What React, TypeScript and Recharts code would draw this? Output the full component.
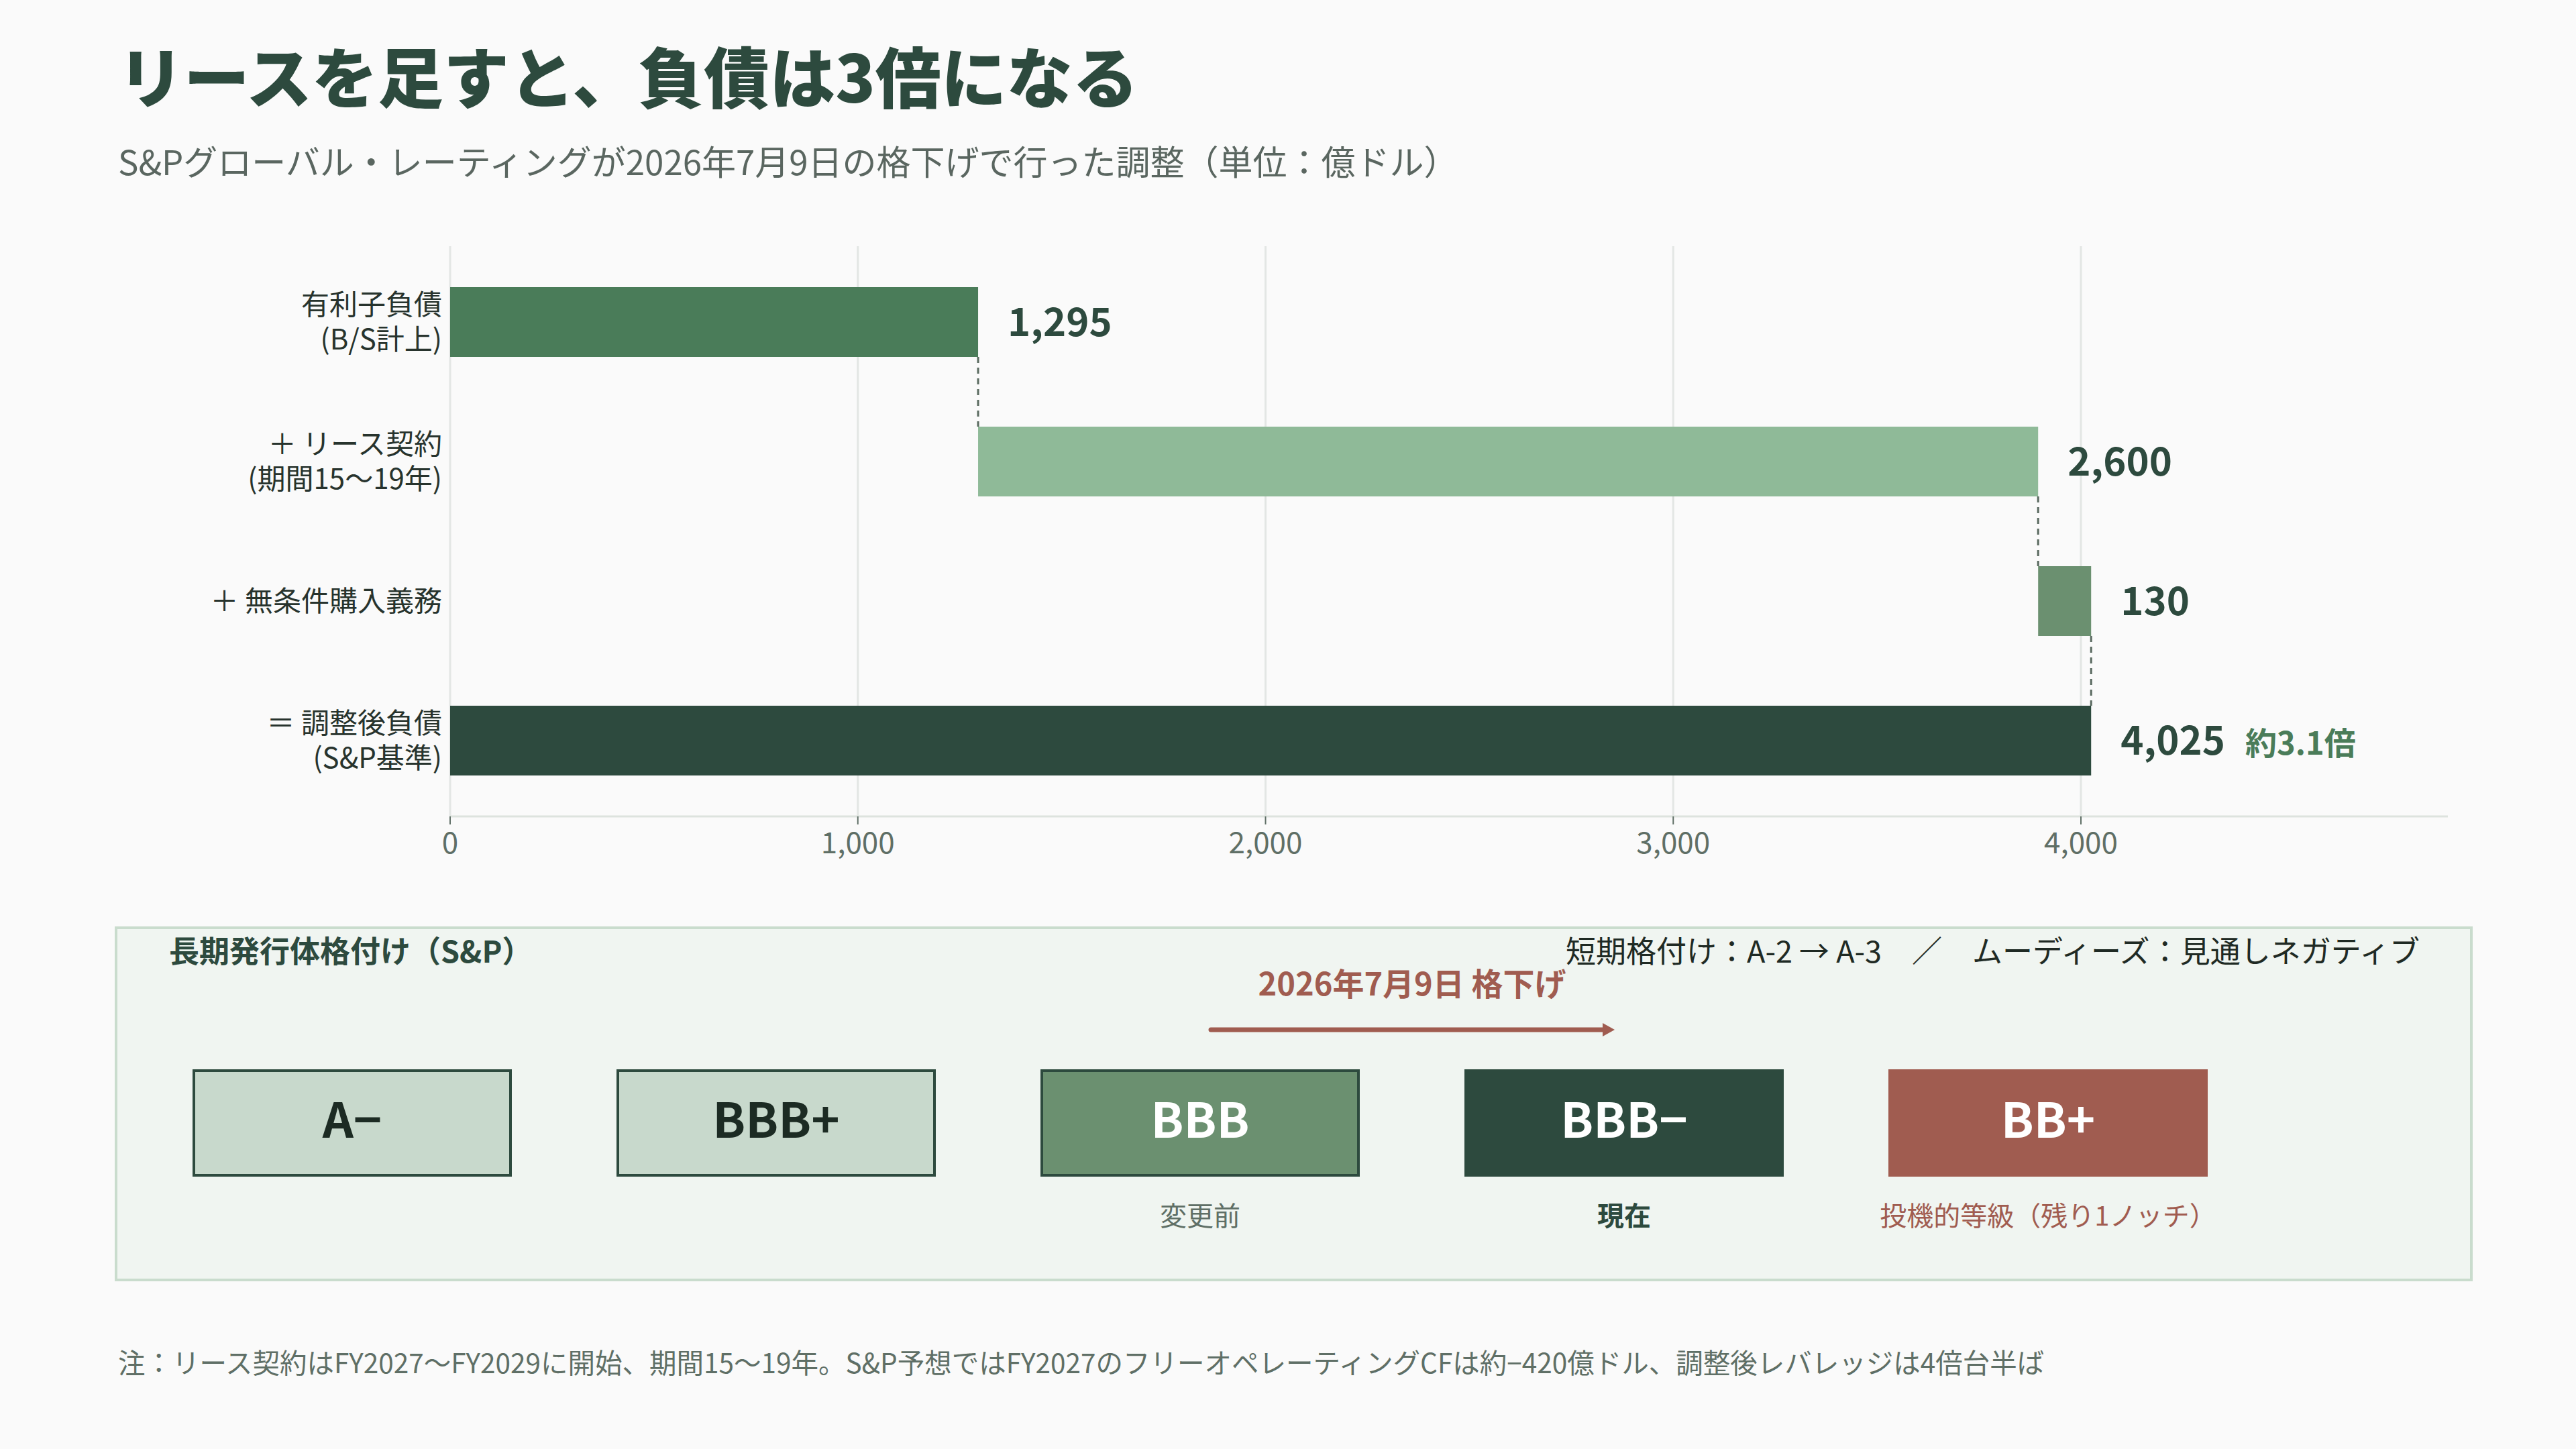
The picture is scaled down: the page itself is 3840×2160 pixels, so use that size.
import React from 'react';
import { BarChart, Bar, XAxis, YAxis, CartesianGrid, LabelList } from 'recharts';

// waterfall rows (億ドル)
const categories = [
  '有利子負債\n(B/S計上)',
  '＋ リース契約\n(期間15〜19年)',
  '＋ 無条件購入義務',
  '＝ 調整後負債\n(S&P基準)',
];
const baseValues = [0, 1295, 3895, 0];
const stepValues = [1295, 2600, 130, 4025];
const xTicks = [0, 1000, 2000, 3000, 4000];
const multipleNote = '約3.1倍';

// rating ladder
const ratings = ['A−', 'BBB+', 'BBB', 'BBB−', 'BB+'];
const ratingNotes = ['', '', '変更前', '現在', '投機的等級（残り1ノッチ）'];

const barColors = ['#4a7c59', '#8fba98', '#6b9070', '#2d4a3e'];
const ratingStyles = [
  { bg: '#c8d9cc', border: '#2d4a3e', color: '#1c2b23' },
  { bg: '#c8d9cc', border: '#2d4a3e', color: '#1c2b23' },
  { bg: '#6b9070', border: '#2d4a3e', color: '#ffffff' },
  { bg: '#2d4a3e', border: '#2d4a3e', color: '#ffffff' },
  { bg: '#a05c50', border: '#a05c50', color: '#ffffff' },
];
const noteStyles = [
  { color: '#5f6f66', weight: 400 },
  { color: '#5f6f66', weight: 400 },
  { color: '#5f6f66', weight: 400 },
  { color: '#2d4a3e', weight: 700 },
  { color: '#a05c50', weight: 400 },
];

const FONT = '"Noto Sans CJK JP", "Noto Sans", sans-serif';

const CHART_W = 3840;
const CHART_H = 1320;
const MARGIN = { top: 367, right: 191, left: 0, bottom: 23 };
const X_AXIS_H = 80;
const Y_PAD = 9;
const BAR_SIZE = 104;
const BAND = (CHART_H - MARGIN.top - MARGIN.bottom - X_AXIS_H - 2 * Y_PAD) / categories.length;
const GAP = BAND - BAR_SIZE;

const data = categories.map((name, i) => ({
  name,
  base: baseValues[i],
  step: stepValues[i],
}));

const CategoryTick = (props: any) => {
  const { x, y, payload } = props;
  const lines = String(payload.value).split('\n');
  const lh = 52;
  const y0 = y - ((lines.length - 1) * lh) / 2;
  return (
    <text x={x} y={y0} textAnchor="end" fill="#27332d" fontSize={42}>
      {lines.map((l, i) => (
        <tspan key={i} x={x} y={y0 + i * lh} dy="0.36em">
          {l}
        </tspan>
      ))}
    </text>
  );
};

const StepBar = (props: any) => {
  const { x, y, width, height, index } = props;
  return (
    <g>
      <rect x={x} y={y} width={width} height={height} fill={barColors[index]} />
      {index < stepValues.length - 1 && (
        <line
          x1={x + width}
          x2={x + width}
          y1={y + height}
          y2={y + height + GAP}
          stroke="#5a6a60"
          strokeWidth={3}
          strokeDasharray="9 7"
        />
      )}
    </g>
  );
};

const ValueLabel = (props: any) => {
  const vb = props.viewBox ?? props;
  const { x, y, width, height } = vb;
  const { value, index } = props;
  const last = index === stepValues.length - 1;
  return (
    <text
      x={x + width + 44}
      y={y + height / 2}
      dy="0.36em"
      fontSize={58}
      fontWeight={700}
      fill="#2d4a3e"
    >
      {Number(value).toLocaleString('en-US')}
      {last && (
        <tspan dx={30} fontSize={47} fill="#4a7c59">
          {multipleNote}
        </tspan>
      )}
    </text>
  );
};

const Txt = ({ x, cy, size, color, weight = 400, children, align = 'left', right }: any) => (
  <div
    style={{
      position: 'absolute',
      left: right === undefined ? x : undefined,
      right,
      top: cy - size * 0.6,
      fontSize: size,
      lineHeight: `${size * 1.2}px`,
      color,
      fontWeight: weight,
      whiteSpace: 'nowrap',
      textAlign: align,
    }}
  >
    {children}
  </div>
);

export default function App() {
  return (
    <div
      style={{
        position: 'absolute',
        left: 0,
        top: 0,
        width: 3840,
        height: 2160,
        background: '#fafafa',
        fontFamily: FONT,
        overflow: 'hidden',
      }}
    >
      <div style={{ position: 'absolute', left: 0, top: 0 }}>
        <BarChart width={CHART_W} height={CHART_H} data={data} layout="vertical" margin={MARGIN}>
          <CartesianGrid horizontal={false} verticalValues={xTicks} stroke="#e3e6e4" strokeWidth={3} />
          <XAxis
            type="number"
            domain={[0, 4900]}
            ticks={xTicks}
            height={X_AXIS_H}
            tickFormatter={(v: number) => v.toLocaleString('en-US')}
            tick={{ fontSize: 44, fill: '#5f6f66' }}
            axisLine={{ stroke: '#dde3de', strokeWidth: 3 }}
            tickLine={{ stroke: '#5f6f66', strokeWidth: 2 }}
            tickSize={12}
            tickMargin={12}
          />
          <YAxis
            type="category"
            dataKey="name"
            width={671}
            axisLine={false}
            tickLine={false}
            tickSize={0}
            tickMargin={12}
            padding={{ top: Y_PAD, bottom: Y_PAD }}
            tick={<CategoryTick />}
            interval={0}
          />
          <Bar dataKey="base" stackId="a" fill="transparent" barSize={BAR_SIZE} isAnimationActive={false} />
          <Bar dataKey="step" stackId="a" barSize={BAR_SIZE} shape={<StepBar />} isAnimationActive={false}>
            <LabelList dataKey="step" content={<ValueLabel />} />
          </Bar>
        </BarChart>
      </div>

      <Txt x={176} cy={111} size={98} color="#2d4a3e" weight={800}>
        リースを足すと、負債は3倍になる
      </Txt>
      <Txt x={176} cy={240} size={51} color="#5a6660">
        S&amp;Pグローバル・レーティングが2026年7月9日の格下げで行った調整（単位：億ドル）
      </Txt>

      <div
        style={{
          position: 'absolute',
          left: 171,
          top: 1381,
          width: 3515,
          height: 529,
          boxSizing: 'border-box',
          border: '4px solid #c9dccd',
          background: '#f0f5f1',
        }}
      >
        <Txt x={77} cy={31} size={45} color="#2d4a3e" weight={700}>
          長期発行体格付け（S&amp;P）
        </Txt>
        <Txt right={75} cy={31} size={45} color="#1f2a24">
          短期格付け：A-2 → A-3　／　ムーディーズ：見通しネガティブ
        </Txt>
        <div
          style={{
            position: 'absolute',
            left: 1630,
            width: 600,
            top: 79 - 28,
            fontSize: 47,
            lineHeight: '56px',
            fontWeight: 700,
            color: '#a05c50',
            textAlign: 'center',
            whiteSpace: 'nowrap',
          }}
        >
          2026年7月9日 格下げ
        </div>
        <svg style={{ position: 'absolute', left: 1620, top: 130 }} width={630} height={40}>
          <line x1={10} y1={20} x2={598} y2={20} stroke="#a05c50" strokeWidth={7} strokeLinecap="round" />
          <polygon points="594,10 612,20 594,30" fill="#a05c50" />
        </svg>

        {ratings.map((r, i) => {
          const s = ratingStyles[i];
          const n = noteStyles[i];
          const left = 112 + i * 632;
          return (
            <React.Fragment key={r}>
              <div
                style={{
                  position: 'absolute',
                  left,
                  top: 209,
                  width: 476,
                  height: 160,
                  boxSizing: 'border-box',
                  background: s.bg,
                  border: `4px solid ${s.border}`,
                  color: s.color,
                  fontSize: 72,
                  fontWeight: 700,
                  display: 'flex',
                  alignItems: 'center',
                  justifyContent: 'center',
                  paddingBottom: 20,
                }}
              >
                {r}
              </div>
              {ratingNotes[i] && (
                <div
                  style={{
                    position: 'absolute',
                    left: left - 100,
                    width: 676,
                    top: 425 - 24,
                    fontSize: 40,
                    lineHeight: '48px',
                    textAlign: 'center',
                    color: n.color,
                    fontWeight: n.weight,
                    whiteSpace: 'nowrap',
                  }}
                >
                  {ratingNotes[i]}
                </div>
              )}
            </React.Fragment>
          );
        })}
      </div>

      <Txt x={176} cy={2030} size={40.5} color="#5f6f66">
        注：リース契約はFY2027〜FY2029に開始、期間15〜19年。S&amp;P予想ではFY2027のフリーオペレーティングCFは約−420億ドル、調整後レバレッジは4倍台半ば
      </Txt>
    </div>
  );
}
